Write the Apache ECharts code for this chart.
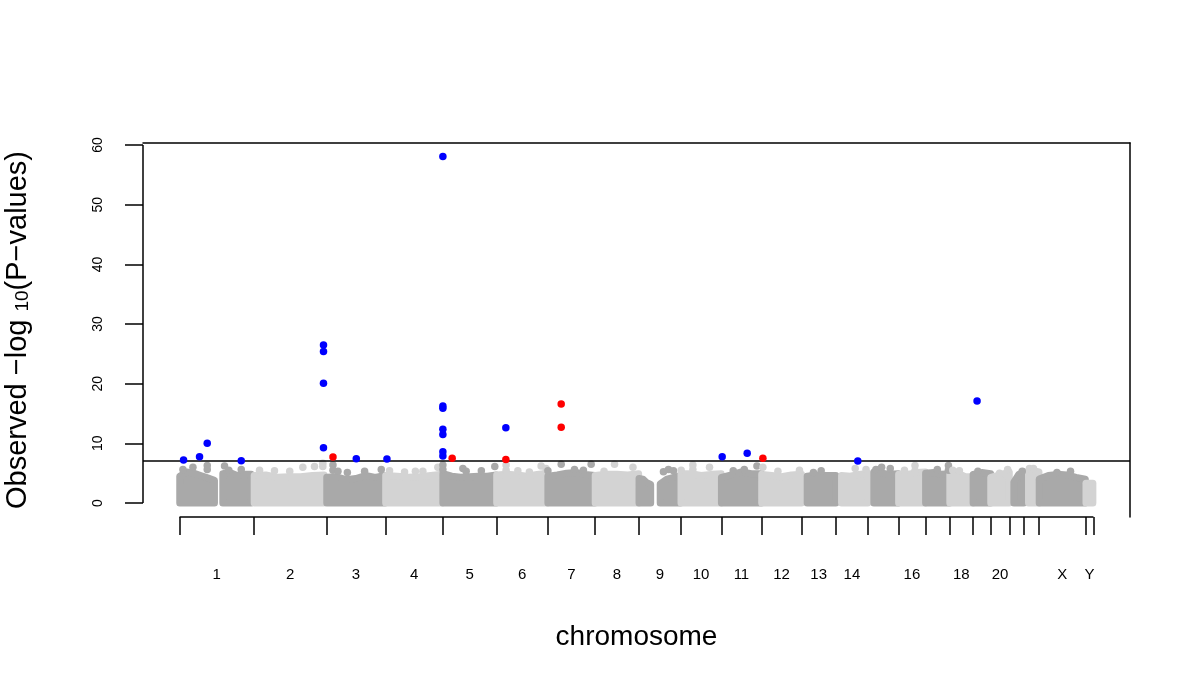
<!DOCTYPE html>
<html>
<head>
<meta charset="utf-8">
<script src="https://cdn.jsdelivr.net/npm/echarts@6/dist/echarts.min.js"></script>
<style>html,body{margin:0;padding:0;background:#fff}#c{width:1200px;height:694px}</style>
</head>
<body>
<div id="c"></div>
<script>
// ---- data ----
const chromNames = ['1','2','3','4','5','6','7','8','9','10','11','12','13','14','15','16','17','18','19','20','21','22','X','Y'];
const chromLenMb = [249.25,243.2,198.0,191.15,180.9,171.1,159.1,146.4,141.2,135.5,135.0,133.9,115.2,107.3,102.5,90.4,81.2,78.1,59.1,63.0,48.1,51.3,155.3,27.0];
const shownLabels = ['1','2','3','4','5','6','7','8','9','10','11','12','13','14','16','18','20','X','Y'];
const threshold = 7;
const yTicks = [0,10,20,30,40,50,60];

// significant SNPs: chromosome, position within chromosome (Mb), -log10 p, colour
const hitChrom = [1,1,1,1, 2,2,2,2, 3,4, 5,5,5,5,5,5,5, 6, 11,11, 14, 19, 3, 5, 6, 7,7, 12];
const hitPos   = [13.4,67.0,92.8,206.8, 233.2,233.2,233.2,233.2, 99.9,4.7, 1,1,1,1,1,1,1, 31.2, 3.0,86.8, 73.4, 13.7, 21.8, 32.2, 31.2, 45.6,45.6, 4.4];
const hitLogP  = [7.2,7.76,10.0,7.1, 26.5,25.4,20.06,9.27, 7.43,7.37, 58.1,16.26,15.87,12.35,11.5,8.6,7.88, 12.6, 7.76,8.33, 7.04, 17.1, 7.7, 7.49, 7.3, 16.6,12.68, 7.49];
const hitColor = ['blue','blue','blue','blue','blue','blue','blue','blue','blue','blue','blue','blue','blue','blue','blue','blue','blue','blue','blue','blue','blue','blue','red','red','red','red','red','red'];

// dense background mass: segments with top envelope (values at evenly spaced positions)
const segChrom = [1,1,2,3,4,5,6,7,8,9,9,10,11,12,13,14,15,16,17,18,19,20,21,22,23,24];
const segStart = [0.7,145,1,1,0.5,1,0.5,1,0.5,1,72,0.5,0.5,0.5,19,19,20,0.5,0.5,0.5,0.5,0.5,15,16,0.5,2];
const segEnd   = [117,240,235,196,190,180,170,158,146,40,140,135,134.5,133.5,115,107,102,90,81,78,59,62.5,48,51,155,25];
const segTop = [
  [4.5,5.2,5.0,4.6,4.2,3.8],
  [4.9,5.1,4.6,4.8,4.8],
  [4.6,4.7,4.3,4.4,4.4,4.6,4.7],
  [4.3,4.4,3.9,4.1,4.6,4.3,4.6],
  [4.6,4.5,4.3,4.4,4.6,4.8],
  [4.9,4.5,4.3,4.4,4.5,4.5,4.7],
  [4.7,4.8,4.7,4.5,4.8,5.0],
  [4.5,4.7,5.0,5.1,4.8,4.6],
  [4.6,4.8,4.8,4.7,4.9],
  [4.1,4.0,3.4,3.1],
  [3.2,4.0,4.3,4.6],
  [4.9,4.9,4.6,4.8,4.9],
  [4.3,4.7,5.2,4.9,4.9],
  [4.8,4.6,4.4,4.7,4.8],
  [4.5,4.7,4.6,4.6],
  [4.6,4.5,4.8,5.0],
  [5.2,5.0,4.8,4.9],
  [4.8,4.8,5.1,5.2],
  [5.0,5.1,4.8,4.9],
  [5.1,5.0,4.4,4.4],
  [4.8,5.1,4.9],
  [4.3,4.7,5.2],
  [3.5,4.8,5.2],
  [5.3,5.4,5.2],
  [4.0,4.6,4.8,4.7,4.3,4.0],
  [3.3,3.3]
];

// individual grey SNPs standing out above the mass
const grayChrom = [1,1,1,1,1,1,1, 2,2,2,2,2,2,2, 3,3,3,3,3,3, 4,4,4,4,4, 5,5,5,5,5,5, 6,6,6,6,6,6, 7,7,7,7,7, 8,8,8, 9,9,9, 10,10,10,10, 11,11,11, 12,12,12, 13,13, 14,14, 15,15,15, 16,16,16, 17,17,17, 18,18, 19, 20,20, 21, 22,22, 23,23];
const grayPos  = [11.4,44.9,92.8,92.8,150.8,165,206.8, 18.8,69,120,164,203,231,231, 21.8,21.8,38.5,70,127.8,183.7, 13.4,63.7,100,125,175.3, 1,1,68,79,130,175, 32,32,71.3,110,149.4,165.7, 1,45.6,90.2,120,146, 30,65.3,127, 82.8,99.6,116.4, 1,40.2,40.2,96, 40,77.1,119.5, 4.4,54.7,127, 40,65.9, 64.7,101, 27,46,75, 20,55.3,55.3, 39.8,77,77, 10.4,32.6, 16.5, 30,57, 43, 19,32.5, 60,105.4];
const grayLogP = [5.6,6.0,6.3,5.6,6.2,5.5,5.6, 5.5,5.4,5.3,6.0,6.1,6.65,6.1, 6.37,5.5,5.3,5.1,5.3,5.6, 5.4,5.2,5.3,5.3,6.0, 6.37,5.6,5.8,5.3,5.4,6.1, 6.37,5.5,5.4,5.2,6.2,5.8, 5.4,6.5,5.6,5.5,6.5, 5.3,6.5,6.0, 5.25,5.6,5.4, 5.5,6.37,5.6,6.0, 5.4,5.6,6.2, 6.0,5.3,5.5, 5.1,5.4, 5.8,5.6, 5.6,6.0,5.8, 5.5,6.3,5.4, 5.6,6.3,5.5, 5.5,5.4, 5.3, 5.0,5.6, 5.3, 5.8,5.8, 5.1,5.3];

// ---- derived ----
const DARK = '#a9a9a9', LIGHT = '#d3d3d3';
const cumStart = [];
let acc = 0;
chromLenMb.forEach(l => { cumStart.push(acc); acc += l; });
const totalLen = acc;
const boundaries = cumStart.concat([totalLen]);
const centers = chromLenMb.map((l, i) => cumStart[i] + l / 2);
const labelValues = [], labelMap = {};
chromNames.forEach((n, i) => {
  if (shownLabels.indexOf(n) >= 0) { labelValues.push(centers[i]); labelMap[centers[i].toFixed(3)] = n; }
});
const shade = c => ((c - 1) % 2 === 0 ? DARK : LIGHT);

const xMin = -122.5, xMax = 3185.7;
const yMin = -2.35, yMax = 60.35;

const grayData = grayChrom.map((c, i) => ({
  value: [cumStart[c - 1] + grayPos[i], grayLogP[i]],
  itemStyle: { color: shade(c), opacity: 1 }
}));
const hitData = hitChrom.map((c, i) => ({
  value: [cumStart[c - 1] + hitPos[i], hitLogP[i]],
  itemStyle: { color: hitColor[i] === 'blue' ? '#0000ff' : '#ff0000', opacity: 1 }
}));

const FONT = 'Liberation Sans, Arial, Helvetica, sans-serif';
const chart = echarts.init(document.getElementById('c'));
chart.setOption({
  animation: false,
  backgroundColor: '#ffffff',
  grid: { left: 143, right: 70, top: 143, bottom: 177, containLabel: false, outerBoundsMode: 'none' },
  xAxis: [{
    type: 'value', min: xMin, max: xMax, position: 'bottom',
    axisLine: { show: false, onZero: false },
    splitLine: { show: false },
    axisTick: { show: true, length: 18, lineStyle: { color: '#000', width: 1.5 }, customValues: boundaries },
    axisLabel: {
      show: true, margin: 50, fontSize: 15, color: '#000', fontFamily: FONT,
      customValues: labelValues,
      formatter: v => labelMap[Number(v).toFixed(3)] || ''
    },
    name: 'chromosome', nameLocation: 'middle', nameGap: 106,
    nameTextStyle: { fontSize: 28, color: '#000', fontFamily: FONT }
  }, {
    type: 'value', min: xMin, max: xMax, position: 'top',
    axisLine: { show: true, onZero: false, lineStyle: { color: '#000', width: 1.5 } },
    axisTick: { show: false }, axisLabel: { show: false }, splitLine: { show: false }
  }],
  yAxis: [{
    type: 'value', min: yMin, max: yMax, position: 'left',
    axisLine: { show: false, onZero: false },
    splitLine: { show: false },
    axisTick: { show: true, length: 18, lineStyle: { color: '#000', width: 1.5 }, customValues: yTicks },
    axisLabel: { show: true, rotate: 90, margin: 38, fontSize: 14, color: '#000', fontFamily: FONT, customValues: yTicks },
    name: 'Observed \u2212log {sub|10}(P\u2212values)', nameLocation: 'middle', nameGap: 111, nameRotate: 90,
    nameTextStyle: {
      fontSize: 29, color: '#000', fontFamily: FONT, verticalAlign: 'bottom',
      rich: { sub: { fontSize: 19, fontFamily: FONT, color: '#000', verticalAlign: 'bottom' } }
    }
  }, {
    type: 'value', min: yMin, max: yMax, position: 'right',
    axisLine: { show: true, onZero: false, lineStyle: { color: '#000', width: 1.5 } },
    axisTick: { show: false }, axisLabel: { show: false }, splitLine: { show: false }
  }],
  series: [
    {
      type: 'custom', name: 'mass', silent: true, z: 1,
      data: segChrom.map((c, i) => [i]),
      encode: { x: -1, y: -1 },
      renderItem: function (params, api) {
        const i = api.value(0);
        const c = segChrom[i];
        const s = cumStart[c - 1] + segStart[i];
        const e = cumStart[c - 1] + segEnd[i];
        const tops = segTop[i];
        const n = tops.length;
        const pts = [api.coord([s, 0])];
        for (let k = 0; k < n; k++) {
          pts.push(api.coord([s + (e - s) * k / (n - 1), tops[k]]));
        }
        pts.push(api.coord([e, 0]));
        const col = shade(c);
        return { type: 'polygon', shape: { points: pts }, style: { fill: col, stroke: col, lineWidth: 7, lineJoin: 'round' } };
      }
    },
    { type: 'scatter', name: 'grey', data: grayData, symbolSize: 7.5, z: 2, silent: true },
    {
      type: 'line', name: 'threshold', data: [], z: 3, silent: true,
      markLine: {
        silent: true, symbol: ['none', 'none'], label: { show: false },
        lineStyle: { color: '#000', type: 'solid', width: 1.5 },
        data: [{ yAxis: threshold }]
      }
    },
    {
      type: 'line', name: 'yaxisline', data: [[xMin, 0], [xMin, 60]], symbol: 'none', clip: false, z: 5, silent: true,
      lineStyle: { color: '#000', width: 1.5 }
    },
    {
      type: 'line', name: 'xaxisline', data: [[0, yMin], [totalLen, yMin]], symbol: 'none', clip: false, z: 5, silent: true,
      lineStyle: { color: '#000', width: 1.5 }
    },
    { type: 'scatter', name: 'hits', data: hitData, symbolSize: 7.5, z: 6, silent: true }
  ]
});
</script>
</body>
</html>
